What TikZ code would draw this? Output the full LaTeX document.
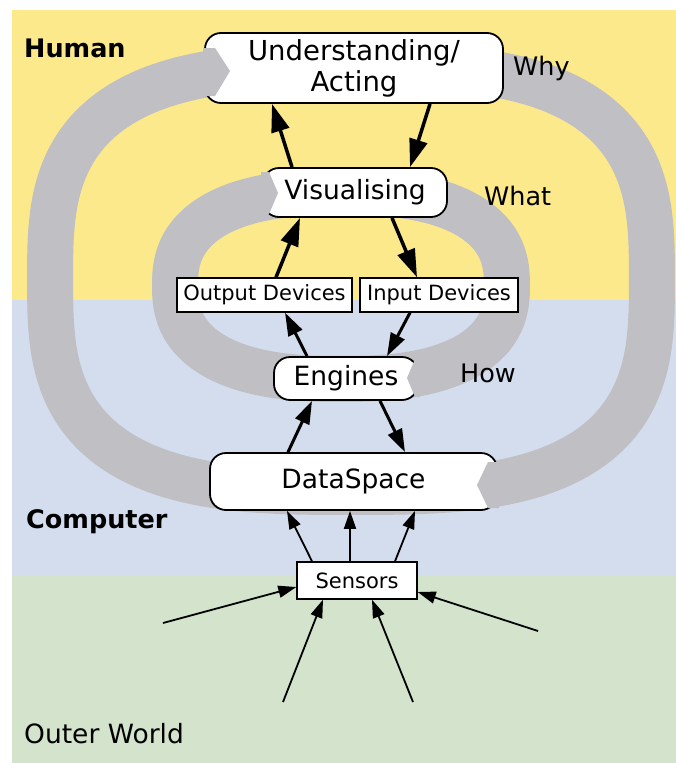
\documentclass[tikz,border=0pt]{standalone}
\usepackage{fontspec}
\setmainfont{DejaVu Sans}
\usetikzlibrary{arrows.meta}
\definecolor{humanbg}{HTML}{FCE98C}
\definecolor{compbg}{HTML}{D3DDEE}
\definecolor{worldbg}{HTML}{D4E4CC}
\definecolor{loopgray}{HTML}{C0BFC3}
\begin{document}
\begin{tikzpicture}[x=1pt, y=-1pt,
  bigbox/.style={draw, line width=1.8pt, fill=white, rounded corners=16pt, inner sep=0pt,
    font=\fontsize{26.5}{31}\selectfont, align=center},
  smallbox/.style={draw, line width=1.4pt, fill=white, inner sep=0pt,
    font=\fontsize{21}{24}\selectfont},
  heavyarrow/.style={line width=3.5pt, -{Triangle[length=28pt,width=18pt]}},
  midarrow/.style={line width=3pt, -{Triangle[length=23pt,width=15pt]}},
  thinarrow/.style={line width=1.8pt, -{Triangle[length=18pt,width=12pt]}},
  band/.style={draw=loopgray, line width=46pt, line join=round},
  bandtip/.style={fill=loopgray},
  zone/.style={font=\fontsize{25.5}{31}\selectfont, anchor=base west, inner sep=0pt},
  zonebold/.style={font=\fontsize{25.5}{31}\selectfont\bfseries, anchor=base west, inner sep=0pt}]
\useasboundingbox (0,0) rectangle (676,763);

% layers: human, computer, outer world
\fill[humanbg] (12,10) rectangle (676,300);
\fill[compbg]  (12,300) rectangle (676,575);
\fill[worldbg] (12,575) rectangle (676,763);

% outer loop (why): superellipse of exponent 3
\draw[band] plot[domain=0.25:360.25, samples=721, variable=\t]
  ({351+301*cos(\t)/pow(abs(cos(\t)),1/3)}, {279+213*sin(\t)/pow(abs(sin(\t)),1/3)}) -- cycle;
% inner loop (what / how): superellipse of exponent 2.5
\draw[band] plot[domain=0.25:360.25, samples=721, variable=\t]
  ({341+166*cos(\t)/pow(abs(cos(\t)),0.2)}, {285.5+93.5*sin(\t)/pow(abs(sin(\t)),0.2)}) -- cycle;

% boxes
\node[bigbox, minimum width=298pt, minimum height=70pt, font=\fontsize{27.5}{31}\selectfont]
  (und) at (354,68) {Understanding/\\Acting};
\node[bigbox, minimum width=184pt, minimum height=49pt] (vis) at (355,192.5) {Visualising};
\node[smallbox, minimum width=175pt, minimum height=34pt] (out) at (264.5,295) {Output Devices};
\node[smallbox, minimum width=158pt, minimum height=34pt] (inp) at (439,295) {Input Devices};
\node[bigbox, minimum width=144pt, minimum height=43pt] (eng) at (346,378.5) {Engines};
\node[bigbox, minimum width=287pt, minimum height=57pt] (ds) at (353.5,481.5) {DataSpace};
\node[smallbox, minimum width=120pt, minimum height=37pt] (sen) at (357,580.5) {Sensors};

% loop arrow tips entering the boxes
\fill[bandtip] (203,48) -- (215,48) -- (230,71) -- (215,96) -- (203,96) -- cycle;
\fill[bandtip] (261,172) -- (269,172) -- (278,193) -- (269,214) -- (261,214) -- cycle;
\fill[bandtip] (420,359) -- (415,359) -- (407,378) -- (415,397) -- (420,397) -- cycle;
\fill[bandtip] (499,462) -- (488,462) -- (477,485) -- (488,508) -- (499,508) -- cycle;

% flow between the boxes
\draw[heavyarrow] ([xshift=-63pt]vis.north) -- ([xshift=-82pt]und.south);
\draw[heavyarrow] ([xshift=76pt]und.south) -- ([xshift=55pt]vis.north);
\draw[heavyarrow] ([xshift=11.5pt]out.north) -- ([xshift=-55pt]vis.south);
\draw[heavyarrow] ([xshift=37pt]vis.south) -- ([xshift=-22pt]inp.north);
\draw[midarrow] ([xshift=-39pt]eng.north) -- ([xshift=20.5pt]out.south);
\draw[midarrow] ([xshift=-29pt]inp.south) -- ([xshift=41pt]eng.north);
\draw[midarrow] ([xshift=-65.5pt]ds.north) -- ([xshift=-34pt]eng.south);
\draw[midarrow] ([xshift=34pt]eng.south) -- ([xshift=51.5pt]ds.north);

\draw[thinarrow] ([xshift=-45pt]sen.north) -- ([xshift=-66.5pt]ds.south);
\draw[thinarrow] ([xshift=-7pt]sen.north) -- ([xshift=-3.5pt]ds.south);
\draw[thinarrow] ([xshift=38pt]sen.north) -- ([xshift=61.5pt]ds.south);

% signals from the outer world
\coordinate (w1) at (163,623);
\coordinate (w2) at (538,631);
\coordinate (w3) at (283,702);
\coordinate (w4) at (413,702);
\draw[thinarrow] (w1) -- ([yshift=-6.5pt]sen.west);
\draw[thinarrow] (w2) -- ([yshift=-11.5pt]sen.east);
\draw[thinarrow] (w3) -- ([xshift=-34pt]sen.south);
\draw[thinarrow] (w4) -- ([xshift=15pt]sen.south);

% labels
\node[zonebold] (human) at (24,57) {Human};
\node[zonebold] (computer) at (26,528) {Computer};
\node[zone, font=\fontsize{26.5}{31}\selectfont] (world) at (24,743) {Outer World};
\node[zone] (why) at (513,75) {Why};
\node[zone] (what) at (484,205) {What};
\node[zone] (how) at (460,382) {How};
\end{tikzpicture}
\end{document}
